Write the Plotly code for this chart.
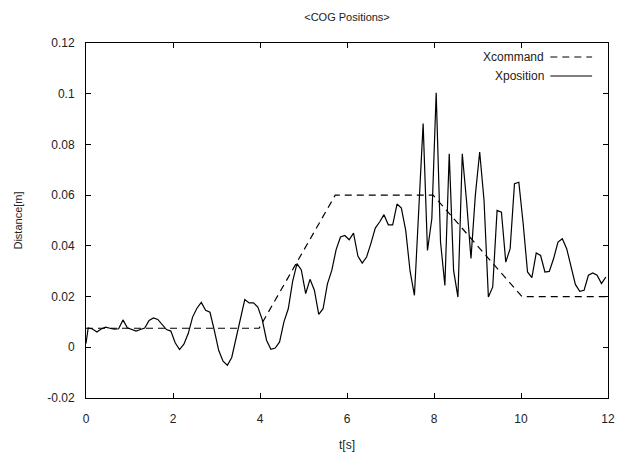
import numpy as np
import plotly.graph_objects as go

# Commanded CoG trajectory (piecewise linear)
cmd_t = [0.0, 3.98, 5.73, 7.98, 10.02, 12.0]
cmd_x = [0.0075, 0.0075, 0.06, 0.06, 0.02, 0.02]

# Measured CoG position, sampled every 0.1 s
pos_t = [0.0] + list(np.round(np.arange(0.05, 12.0, 0.1), 2))
pos_x = [
    0.0015, 0.0076, 0.0072, 0.0060, 0.0072, 0.0079, 0.0075, 0.0072, 0.0073, 0.0108,
    0.0077, 0.0070, 0.0064, 0.0070, 0.0076, 0.0106, 0.0116, 0.0110, 0.0089, 0.0070,
    0.0064, 0.0018, -0.0009, 0.0012, 0.0054, 0.0119, 0.0154, 0.0177, 0.0146, 0.0138,
    0.0067, -0.0012, -0.0055, -0.0071, -0.0040, 0.0035, 0.0100, 0.0188, 0.0175, 0.0175,
    0.0159, 0.0110, 0.0028, -0.0008, -0.0003, 0.0021, 0.0100, 0.0152, 0.0260, 0.0330,
    0.0305, 0.0212, 0.0268, 0.0225, 0.0130, 0.0152, 0.0250, 0.0303, 0.0385, 0.0435,
    0.0441, 0.0424, 0.0450, 0.0360, 0.0332, 0.0356, 0.0410, 0.0470, 0.0494, 0.0523,
    0.0483, 0.0483, 0.0565, 0.0549, 0.0461, 0.0300, 0.0205, 0.0520, 0.0882, 0.0382,
    0.0507, 0.1004, 0.0415, 0.0244, 0.0763, 0.0303, 0.0198, 0.0763, 0.0573, 0.0350,
    0.0599, 0.0770, 0.0580, 0.0198, 0.0238, 0.0540, 0.0533, 0.0336, 0.0389, 0.0645,
    0.0651, 0.0487, 0.0297, 0.0275, 0.0372, 0.0362, 0.0297, 0.0299, 0.0350, 0.0415,
    0.0428, 0.0389, 0.0316, 0.0248, 0.0221, 0.0225, 0.0284, 0.0293, 0.0284, 0.0251,
    0.0277,
]

x_ticks = [0, 2, 4, 6, 8, 10, 12]
y_ticks = [-0.02, 0, 0.02, 0.04, 0.06, 0.08, 0.1, 0.12]
y_tick_text = ["-0.02", "0", "0.02", "0.04", "0.06", "0.08", "0.1", "0.12"]

FONT = "Liberation Sans, Arial, sans-serif"
DASH = "7px,5px"

fig = go.Figure()
fig.add_trace(go.Scatter(x=cmd_t, y=cmd_x, mode="lines", name="Xcommand",
                         line=dict(color="black", width=1.2, dash=DASH)))
fig.add_trace(go.Scatter(x=pos_t, y=pos_x, mode="lines", name="Xposition",
                         line=dict(color="black", width=1.2)))

axis_common = dict(showline=True, linecolor="black", linewidth=1, mirror="ticks",
                   ticks="inside", ticklen=5, tickcolor="black", tickwidth=1,
                   showgrid=False, zeroline=False,
                   tickfont=dict(family=FONT, size=12, color="#222"))
fig.update_xaxes(range=[0, 12], tickvals=x_ticks, ticklabelstandoff=10, **axis_common)
fig.update_yaxes(range=[-0.02, 0.12], tickvals=y_ticks, ticktext=y_tick_text,
                 ticklabelstandoff=8, **axis_common)

# Legend drawn gnuplot-style: label on the left, line sample on the right
legend_rows = [("Xcommand", DASH, 0.9606), ("Xposition", "solid", 0.907)]
for label, dash, yy in legend_rows:
    fig.add_annotation(x=0.8819, y=yy, xref="paper", yref="paper", text=label,
                       showarrow=False, xanchor="right", yanchor="middle",
                       font=dict(family=FONT, size=12, color="#222"))
    fig.add_shape(type="line", xref="paper", yref="paper", x0=0.8895, x1=0.9695,
                  y0=yy, y1=yy, line=dict(color="black", width=1.2, dash=dash))

fig.add_annotation(x=0.5, y=-0.1324, xref="paper", yref="paper", text="t[s]",
                   showarrow=False, xanchor="center", yanchor="middle",
                   font=dict(family=FONT, size=12, color="#222"))
fig.add_annotation(x=-0.1295, y=0.501, xref="paper", yref="paper", text="Distance[m]",
                   showarrow=False, textangle=-90, xanchor="center", yanchor="middle",
                   font=dict(family=FONT, size=11, color="#222"))

fig.update_layout(
    width=627, height=455,
    margin=dict(l=86, r=16, t=43, b=57),
    paper_bgcolor="white", plot_bgcolor="white",
    showlegend=False,
    title=dict(text="&lt;COG Positions&gt;", x=0.5, xref="paper", xanchor="center",
               y=1 - 17 / 455, yref="container", yanchor="middle",
               font=dict(family=FONT, size=11, color="#222")),
)

fig.write_html("out.html")
